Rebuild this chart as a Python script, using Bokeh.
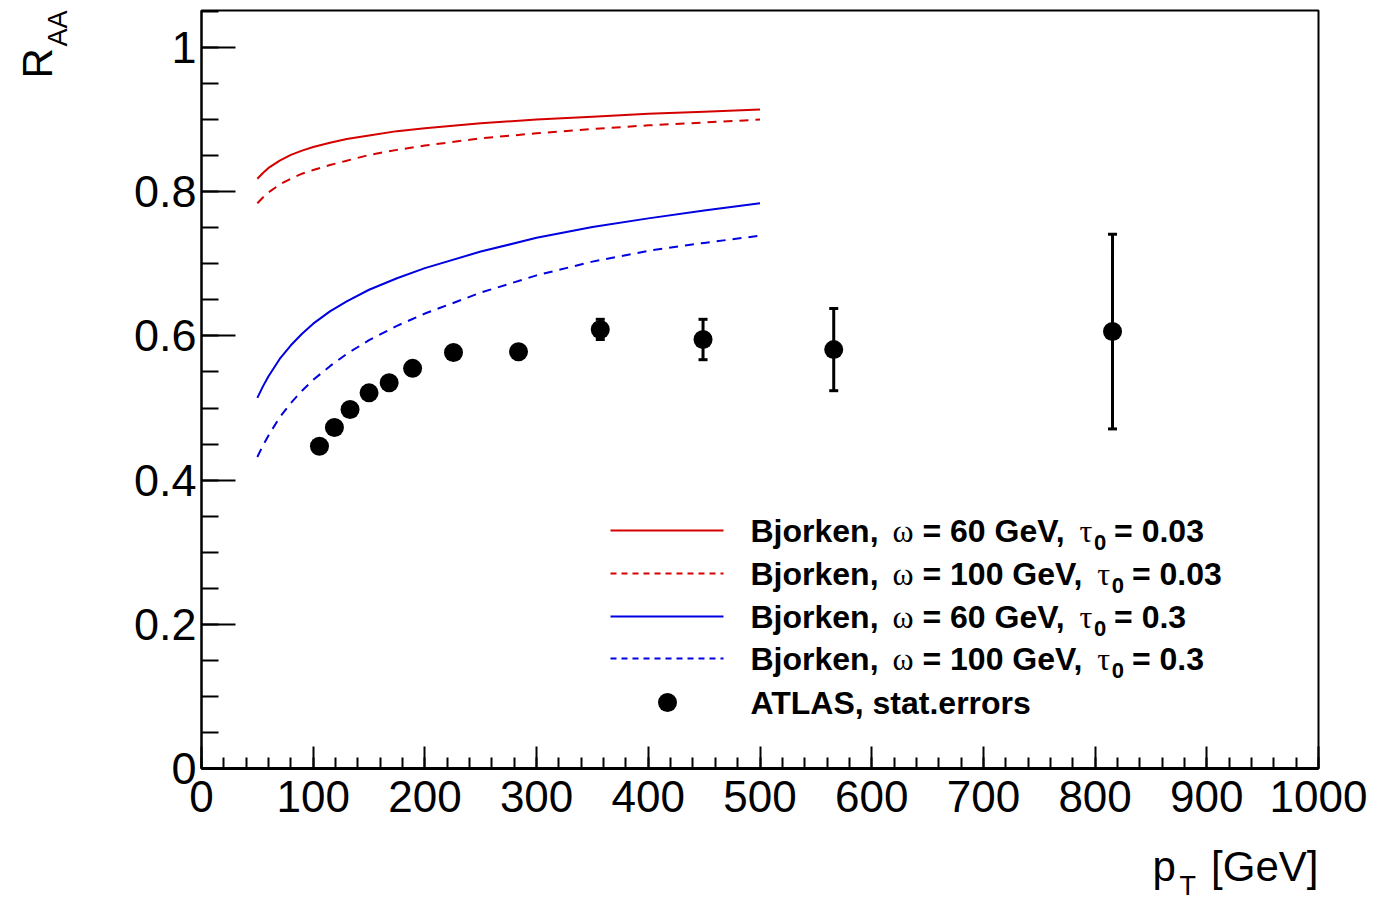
from bokeh.plotting import figure
from bokeh.layouts import row, column
from bokeh.models import Label, Range1d, SingleIntervalTicker
from bokeh.core.properties import value
from bokeh.embed import file_html
from bokeh.resources import INLINE
import math

# ---- model curves: R_AA vs pT (Bjorken expansion) ----
curve_pt = [50, 55, 60, 70, 80, 90, 100, 115, 130, 150, 175, 200, 250, 300, 350, 400, 450, 500]
raa_w60_t003 = [0.818, 0.826, 0.833, 0.843, 0.851, 0.857, 0.862, 0.868, 0.873, 0.878, 0.884,
                0.888, 0.895, 0.900, 0.904, 0.908, 0.911, 0.914]
raa_w100_t003 = [0.784, 0.792, 0.799, 0.810, 0.818, 0.825, 0.830, 0.837, 0.843, 0.851, 0.858,
                 0.864, 0.874, 0.881, 0.887, 0.892, 0.896, 0.900]
raa_w60_t03 = [0.514, 0.530, 0.544, 0.568, 0.587, 0.603, 0.617, 0.634, 0.648, 0.664, 0.680,
               0.694, 0.717, 0.736, 0.751, 0.763, 0.774, 0.784]
raa_w100_t03 = [0.432, 0.448, 0.462, 0.487, 0.507, 0.524, 0.539, 0.558, 0.575, 0.594, 0.614,
                0.631, 0.660, 0.684, 0.703, 0.718, 0.729, 0.739]

# ---- ATLAS measurement with statistical errors ----
atlas_pt = [105.6, 119.0, 133.0, 150.0, 168.0, 189.0, 225.6, 283.8, 357.0, 449.0, 566.0, 815.6]
atlas_raa = [0.447, 0.473, 0.498, 0.521, 0.535, 0.555, 0.577, 0.578, 0.609, 0.595, 0.581, 0.606]
atlas_err = [0.005, 0.005, 0.005, 0.005, 0.006, 0.006, 0.007, 0.009, 0.014, 0.028, 0.057, 0.135]

legend_labels = [
    ("60", "0.03"),
    ("100", "0.03"),
    ("60", "0.3"),
    ("100", "0.3"),
]
RED = "#d40000"
BLUE = "#0000e0"

# ---- page geometry (pixels) ----
W, H = 1375, 904
LEFT_W = 80            # strip holding the y title
BOTTOM_H = 64          # strip holding the x title
FL, FR, FT, FB = 201, 1318, 10, 768      # frame edges on the page
X0, X1 = 0.0, 1000.0
Y0, Y1 = 0.0, (FB - FT) / (FB - 47.0)

def px2x(px):
    return X0 + (px - FL) * (X1 - X0) / (FR - FL)

def py2y(py):
    return Y0 + (FB - py) * (Y1 - Y0) / (FB - FT)

main_w, main_h = W - LEFT_W, H - BOTTOM_H
p = figure(width=main_w, height=main_h, output_backend="svg", toolbar_location=None,
           x_range=Range1d(X0, X1), y_range=Range1d(Y0, Y1),
           min_border_left=FL - LEFT_W, min_border_right=W - FR,
           min_border_top=FT, min_border_bottom=main_h - FB)
p.background_fill_color = "white"
p.border_fill_color = "white"
p.grid.visible = False
p.outline_line_color = "black"
p.outline_line_width = 2

TICK_FONT = "Liberation Sans"
for ax in (p.xaxis[0], p.yaxis[0]):
    ax.axis_line_color = "black"
    ax.major_tick_line_color = "black"
    ax.minor_tick_line_color = "black"
    ax.major_tick_line_width = 2
    ax.minor_tick_line_width = 2
    ax.major_tick_out = 0
    ax.minor_tick_out = 0
    ax.major_label_text_font = TICK_FONT
    ax.major_label_text_color = "black"

p.xaxis.ticker = SingleIntervalTicker(interval=100, num_minor_ticks=5)
p.xaxis.axis_line_width = 3
p.xaxis.major_tick_in = 22
p.xaxis.minor_tick_in = 11
p.xaxis.major_label_standoff = 12
p.xaxis.major_label_text_font_size = "44px"

p.yaxis.ticker = SingleIntervalTicker(interval=0.2, num_minor_ticks=4)
p.yaxis.axis_line_width = 2
p.yaxis.major_tick_in = 34
p.yaxis.minor_tick_in = 17
p.yaxis.major_label_standoff = 5
p.yaxis.major_label_text_font_size = "45px"
p.yaxis.major_label_overrides = {0: "0", 0.2: "0.2", 0.4: "0.4", 0.6: "0.6", 0.8: "0.8", 1: "1"}

# model curves
p.line(curve_pt, raa_w60_t003, line_color=RED, line_width=2)
p.line(curve_pt, raa_w100_t003, line_color=RED, line_width=2, line_dash="9 7")
p.line(curve_pt, raa_w60_t03, line_color=BLUE, line_width=2)
p.line(curve_pt, raa_w100_t03, line_color=BLUE, line_width=2, line_dash="9 7")

# data with error bars
lo = [v - e for v, e in zip(atlas_raa, atlas_err)]
hi = [v + e for v, e in zip(atlas_raa, atlas_err)]
p.segment(atlas_pt, lo, atlas_pt, hi, line_color="black", line_width=3)
p.rect(atlas_pt, lo, width=9, height=3, width_units="screen", height_units="screen",
       fill_color="black", line_color=None)
p.rect(atlas_pt, hi, width=9, height=3, width_units="screen", height_units="screen",
       fill_color="black", line_color=None)
p.scatter(atlas_pt, atlas_raa, size=19, marker="circle", fill_color="black", line_color=None)

# ---- legend drawn by hand (mixed fonts, subscripts) ----
SANS_B = {' ': 278, ',': 278, '.': 278, '=': 584, 'B': 722, 'j': 278, 'o': 611,
          'r': 389, 'k': 556, 'e': 556, 'n': 611, 'G': 778, 'V': 667, 'A': 722,
          'T': 611, 'L': 611, 'S': 667, 's': 556, 't': 333, 'a': 556}
for d in "0123456789":
    SANS_B[d] = 556

def tw(s, size):
    return sum(SANS_B.get(c, 556) for c in s) * size / 1000.0

LEG_FS = 32
SUB_FS = 22
leg_line_x0, leg_line_x1 = px2x(610), px2x(723)
leg_text_x = px2x(750)
row_py = [530, 573, 616, 658]
mark_py = 702

def add_text(x, y, txt, size, dx=0, dy=0, font="Liberation Sans", style="bold",
             base="middle", align="left"):
    p.add_layout(Label(x=x, y=y, x_offset=dx, y_offset=dy, text=txt,
                       text_font=font, text_font_style=style,
                       text_font_size=f"{size}px", text_color="black",
                       text_align=align, text_baseline=base))

styles = [(RED, "solid"), (RED, "dashed"), (BLUE, "solid"), (BLUE, "dashed")]
for (omega, tau), (col, dash), py in zip(legend_labels, styles, row_py):
    yy = py2y(py)
    p.line([leg_line_x0, leg_line_x1], [yy, yy], line_color=col, line_width=2,
           line_dash=("6 5" if dash == "dashed" else "solid"))
    dx = 0.0
    add_text(leg_text_x, yy, "Bjorken,", LEG_FS, dx)
    dx += tw("Bjorken,", LEG_FS) + 14
    add_text(leg_text_x, yy, "\u03c9", LEG_FS, dx, 0, "Liberation Serif", "normal")
    dx += 0.686 * LEG_FS + 8.0
    s1 = f"= {omega} GeV,"
    add_text(leg_text_x, yy, s1, LEG_FS, dx)
    dx += tw(s1, LEG_FS) + 12
    add_text(leg_text_x, yy, "\u03c4", LEG_FS, dx, 0, "Liberation Serif", "normal")
    dx += 0.45 * LEG_FS
    add_text(leg_text_x, yy, "0", SUB_FS, dx, -12)
    dx += tw("0", SUB_FS) + 8
    add_text(leg_text_x, yy, f"= {tau}", LEG_FS, dx)

ym = py2y(mark_py)
p.scatter([px2x(667)], [ym], size=19, marker="circle", fill_color="black", line_color=None)
add_text(leg_text_x, ym, "ATLAS, stat.errors", LEG_FS)

# ---- title strips: plain canvases whose ranges are page pixels ----
def strip(w, h, x_lo, x_hi, y_top, y_bot, border_l=0, border_r=0):
    f = figure(width=w, height=h, output_backend="svg", toolbar_location=None,
               x_range=Range1d(x_lo, x_hi), y_range=Range1d(y_bot, y_top),
               x_axis_type=None, y_axis_type=None, min_border=0,
               min_border_left=border_l, min_border_right=border_r,
               min_border_top=0, min_border_bottom=0)
    f.grid.visible = False
    f.outline_line_color = None
    f.background_fill_color = "white"
    f.border_fill_color = "white"
    return f

ytitle = strip(LEFT_W, H, 0, LEFT_W, 0, H)
ytitle.text(x=[37], y=[78], text=["R"], angle=math.pi / 2,
            text_font=value("Liberation Sans"), text_font_size="42px",
            text_align="left", text_baseline="middle", text_color="black")
ytitle.text(x=[57], y=[46], text=["AA"], angle=math.pi / 2,
            text_font=value("Liberation Sans"), text_font_size="27px",
            text_align="left", text_baseline="middle", text_color="black")

# the column aligns this strip's frame with the main frame, so its x range is FL..FR
xtitle = strip(main_w, BOTTOM_H, FL, FR, main_h, H,
               border_l=FL - LEFT_W, border_r=W - FR)
xtitle.text(x=[FR], y=[866], text=["[GeV]"], text_font=value("Liberation Sans"),
            text_font_size="42px", text_align="right", text_baseline="middle",
            text_color="black")
xtitle.text(x=[1152], y=[866], text=["p"], text_font=value("Liberation Sans"),
            text_font_size="42px", text_align="left", text_baseline="middle",
            text_color="black")
xtitle.text(x=[1179], y=[885], text=["T"], text_font=value("Liberation Sans"),
            text_font_size="27px", text_align="left", text_baseline="middle",
            text_color="black")

layout = row(ytitle, column(p, xtitle, spacing=0), spacing=0)
open("out.html", "w").write(file_html(layout, INLINE))
